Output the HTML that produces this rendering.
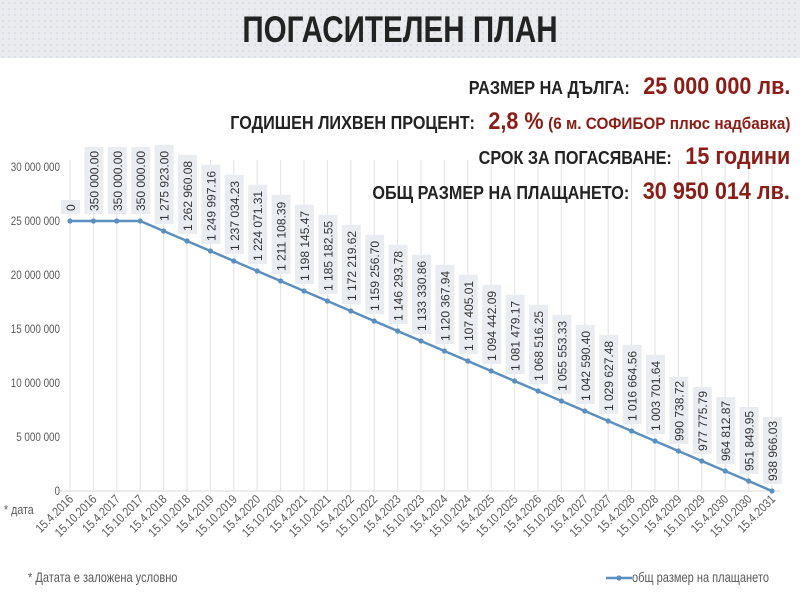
<!DOCTYPE html>
<html><head><meta charset="utf-8"><style>
html,body{margin:0;padding:0;background:#fff;}
body{width:800px;height:600px;overflow:hidden;position:relative;font-family:"Liberation Sans",sans-serif;}
.hdr{position:absolute;left:0;top:0;width:800px;height:58px;background:#e9ebee;background-image:radial-gradient(#dadde2 1px,transparent 1.2px);background-size:6px 6px;}
.title{position:absolute;left:0;top:9px;width:800px;text-align:center;font-size:37px;font-weight:bold;color:#222;transform:scaleX(0.8);transform-origin:center;}
.info{position:absolute;right:10px;text-align:right;font-weight:bold;color:#222;font-size:18px;white-space:nowrap;transform:scaleX(0.9);transform-origin:right center;z-index:2;}
.info b{color:#8b1c16;font-size:24px;margin-left:10px;}
.info small{color:#8b1c16;font-size:17px;}
</style></head><body>
<div class="hdr"></div>
<div class="title">ПОГАСИТЕЛЕН ПЛАН</div>
<svg id="c" width="800" height="600" style="position:absolute;left:0;top:0" xmlns="http://www.w3.org/2000/svg"></svg>
<div class="info" style="top:73px">РАЗМЕР НА ДЪЛГА: <b>25 000 000 лв.</b></div>
<div class="info" style="top:108px">ГОДИШЕН ЛИХВЕН ПРОЦЕНТ: <b>2,8 %</b> <small>(6 м. СОФИБОР плюс надбавка)</small></div>
<div class="info" style="top:143px">СРОК ЗА ПОГАСЯВАНЕ: <b>15 години</b></div>
<div class="info" style="top:178px">ОБЩ РАЗМЕР НА ПЛАЩАНЕТО: <b>30 950 014 лв.</b></div>
<script>
var s=document.getElementById('c'),h='';
var labels=["0","350 000.00","350 000.00","350 000.00","1 275 923.00","1 262 960.08","1 249 997.16","1 237 034.23","1 224 071.31","1 211 108.39","1 198 145.47","1 185 182.55","1 172 219.62","1 159 256.70","1 146 293.78","1 133 330.86","1 120 367.94","1 107 405.01","1 094 442.09","1 081 479.17","1 068 516.25","1 055 553.33","1 042 590.40","1 029 627.48","1 016 664.56","1 003 701.64","990 738.72","977 775.79","964 812.87","951 849.95","938 966.03"];
function X(i){return 70+i*23.4;}
function Y(v){return 491-v*54/5e6;}
var F='font-family="Liberation Sans,sans-serif"';
var vals=[];for(var i=0;i<31;i++){vals.push(i<=3?25e6:25e6*(30-i)/27);}
for(var i=0;i<31;i++){h+='<line x1="'+X(i)+'" y1="160" x2="'+X(i)+'" y2="491" stroke="#e3e3e3" stroke-width="1"/>';}
h+='<line x1="60" y1="491" x2="780" y2="491" stroke="#d9d9d9"/>';
for(var k=0;k<=6;k++){var t=k===0?'0':(k*5)+' 000 000';h+='<text transform="translate(60,'+(Y(k*5e6)+4)+') scale(0.82,1)" text-anchor="end" '+F+' font-size="12" fill="#595959">'+t+'</text>';}
var pts=vals.map(function(v,i){return X(i)+','+Y(v)}).join(' ');
h+='<polyline points="'+pts+'" fill="none" stroke="#5b8fc0" stroke-width="2.5"/>';
for(var i=0;i<31;i++){h+='<circle cx="'+X(i)+'" cy="'+Y(vals[i])+'" r="2.6" fill="#5b8fc0"/>';}
for(var i=0;i<31;i++){var L=labels[i],w=L.length*6.1+6;if(L=="0")w=14;var yb=Y(vals[i])-7;
h+='<rect x="'+(X(i)-9)+'" y="'+(yb-w)+'" width="19" height="'+w+'" fill="#e9edf2"/>';
h+='<text transform="translate('+(X(i)+5)+','+(yb-3)+') rotate(-90)" '+F+' font-size="12" fill="#333">'+L+'</text>';}
for(var i=0;i<31;i++){var y=2016+Math.floor(i/2),d=(i%2==0?'15.4.':'15.10.')+y;
h+='<text transform="translate('+(X(i)+4)+',500) rotate(-45) scale(0.85,1)" text-anchor="end" '+F+' font-size="12.5" fill="#595959">'+d+'</text>';}
h+='<text transform="translate(4,514) scale(0.82,1)" '+F+' font-size="13" fill="#595959">* дата</text>';
h+='<text transform="translate(28,582) scale(0.82,1)" '+F+' font-size="13.5" fill="#595959">* Датата е заложена условно</text>';
h+='<line x1="606" y1="578" x2="632" y2="578" stroke="#5b8fc0" stroke-width="2.5"/><circle cx="619" cy="578" r="2.6" fill="#5b8fc0"/>';
h+='<text transform="translate(632,582) scale(0.82,1)" '+F+' font-size="13.5" fill="#595959">общ размер на плащането</text>';
s.innerHTML=h;
</script>
</body></html>
